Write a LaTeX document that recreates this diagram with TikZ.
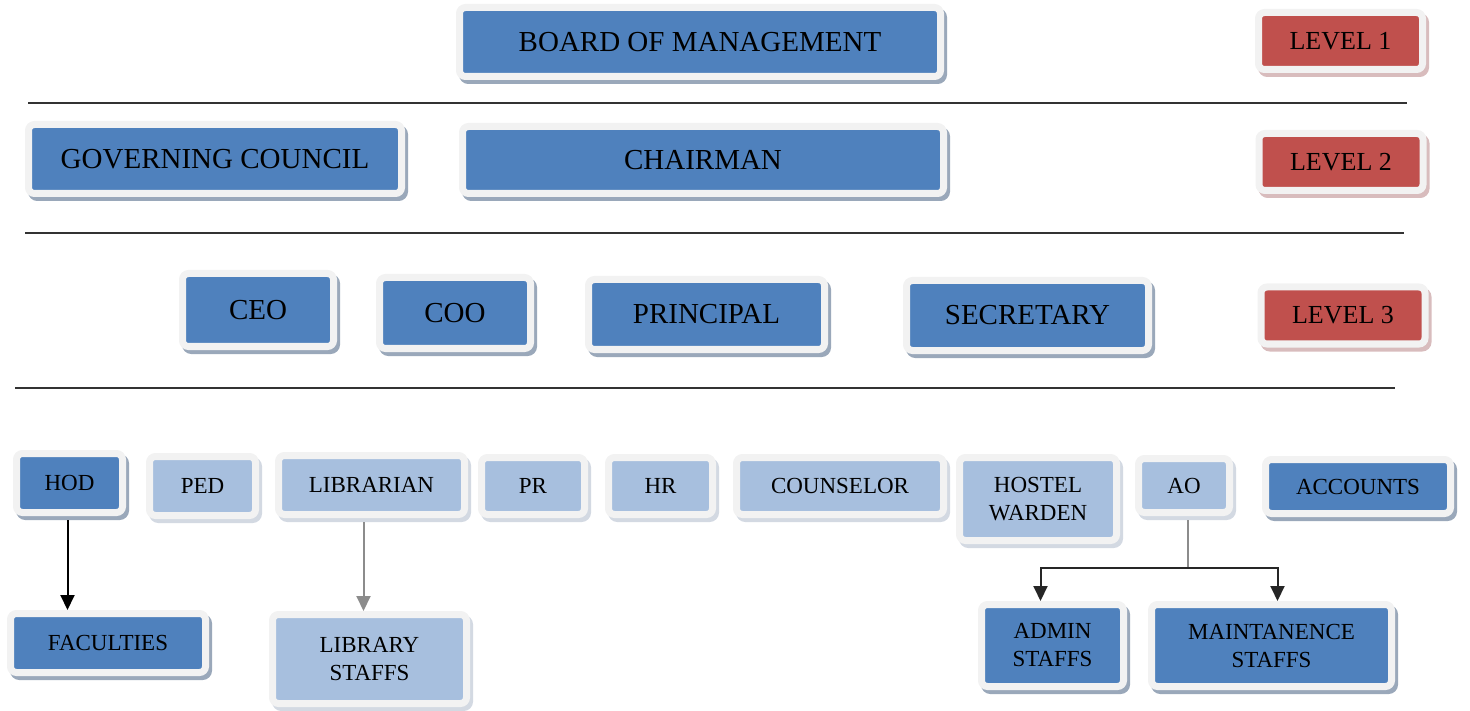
\documentclass[tikz,border=0pt]{standalone}
\usepackage{fontspec}
\setmainfont{Liberation Serif}
\usetikzlibrary{arrows.meta,positioning}

\definecolor{darkblue}{HTML}{4F81BD}
\definecolor{lightblue}{HTML}{A7BFDE}
\definecolor{levelred}{HTML}{C0504D}
\definecolor{framegray}{HTML}{F2F2F2}
\definecolor{darkshade}{HTML}{9AA8BA}
\definecolor{lightshade}{HTML}{D3D9E2}
\definecolor{redshade}{HTML}{D8BCBD}

\tikzset{
  box/.style={rectangle, rounded corners=6pt, draw=framegray, line width=7pt,
    inner sep=0pt, align=center, text=black,
    preaction={fill=#1, draw=#1, line width=7pt, transform canvas={shift={(3pt,-4pt)}}}},
  dark/.style={box=darkshade, fill=darkblue},
  light/.style={box=lightshade, fill=lightblue},
  lvl/.style={box=redshade, fill=levelred, minimum width=164, minimum height=57,
    font=\fontsize{26}{30}\selectfont},
  big/.style={font=\fontsize{29}{34}\selectfont},
  small/.style={font=\fontsize{23}{28}\selectfont},
  sep/.style={line width=1.5pt, black!80},
  link/.style={line width=2pt, -{Triangle[width=14pt,length=15pt]}},
}

\begin{document}
\begin{tikzpicture}[x=1pt, y=-1pt]
  \useasboundingbox (0,0) rectangle (1470,711);

  % level 1
  \node[dark, big, minimum width=481, minimum height=69] (board) at (700,42) {BOARD OF MANAGEMENT};
  \node[lvl] (level1) at (1340.5,41) {LEVEL 1};
  \draw[sep] (28,103) -- (1407,103);

  % level 2
  \node[dark, big, minimum width=373, minimum height=69] (council) at (215,159) {GOVERNING COUNCIL};
  \node[dark, big, minimum width=481, minimum height=67] (chairman) at (703,160) {CHAIRMAN};
  \node[lvl] (level2) at (1341,162) {LEVEL 2};
  \draw[sep] (25,233) -- (1404,233);

  % level 3
  \node[dark, big, minimum width=151, minimum height=73] (ceo) at (258,310) {CEO};
  \node[dark, big, minimum width=151, minimum height=71] (coo) at (455,313) {COO};
  \node[dark, big, minimum width=236, minimum height=70] (principal) at (706.5,314.5) {PRINCIPAL};
  \node[dark, big, minimum width=242, minimum height=70] (secretary) at (1027.5,315.5) {SECRETARY};
  \node[lvl] (level3) at (1343,315.5) {LEVEL 3};
  \draw[sep] (15,388) -- (1395,388);

  % staff row
  \foreach \name/\cx/\cy/\w/\h/\kind/\txt in {
      hod/69.5/483/106/59/dark/HOD,
      ped/202.5/486/106/59/light/PED,
      librarian/371.5/485/186/59/light/LIBRARIAN,
      pr/533/486/103/57/light/PR,
      hr/660.5/486/104/57/light/HR,
      counselor/840/486/207/57/light/COUNSELOR,
      hostel/1038/499/157/83/light/{HOSTEL\\WARDEN},
      ao/1184/485.5/91/54/light/AO,
      accounts/1358/486.5/185/54/dark/ACCOUNTS} {
    \node[\kind, small, minimum width=\w, minimum height=\h] (\name) at (\cx,\cy) {\txt};
  }

  \node[dark, small, minimum width=195, minimum height=59] (faculties) at (108,643) {FACULTIES};
  \node[light, small, minimum width=194, minimum height=89] (libstaffs) at (369.5,659) {LIBRARY\\STAFFS};
  \node[dark, small, minimum width=142, minimum height=82] (admin) at (1052.5,645.5) {ADMIN\\STAFFS};
  \node[dark, small, minimum width=240, minimum height=82] (maint) at (1271.5,645.5) {MAINTANENCE\\STAFFS};

  \draw[link] ([xshift=-2pt]hod.south) ++(0,4) -- ([xshift=-2pt]hod.south |- faculties.north);
  \draw[link, black!45] ([xshift=-8pt]librarian.south) ++(0,4) -- ([xshift=-8pt]librarian.south |- libstaffs.north);
  \coordinate (split) at (1188,568);
  \draw[line width=1.5pt, black!45] ([xshift=4pt]ao.south) ++(0,4) -- (split);
  \draw[link, black!85] (split) -| ([xshift=-12pt]admin.north);
  \draw[link, black!85] (split) -| ([xshift=6pt]maint.north);
\end{tikzpicture}
\end{document}
